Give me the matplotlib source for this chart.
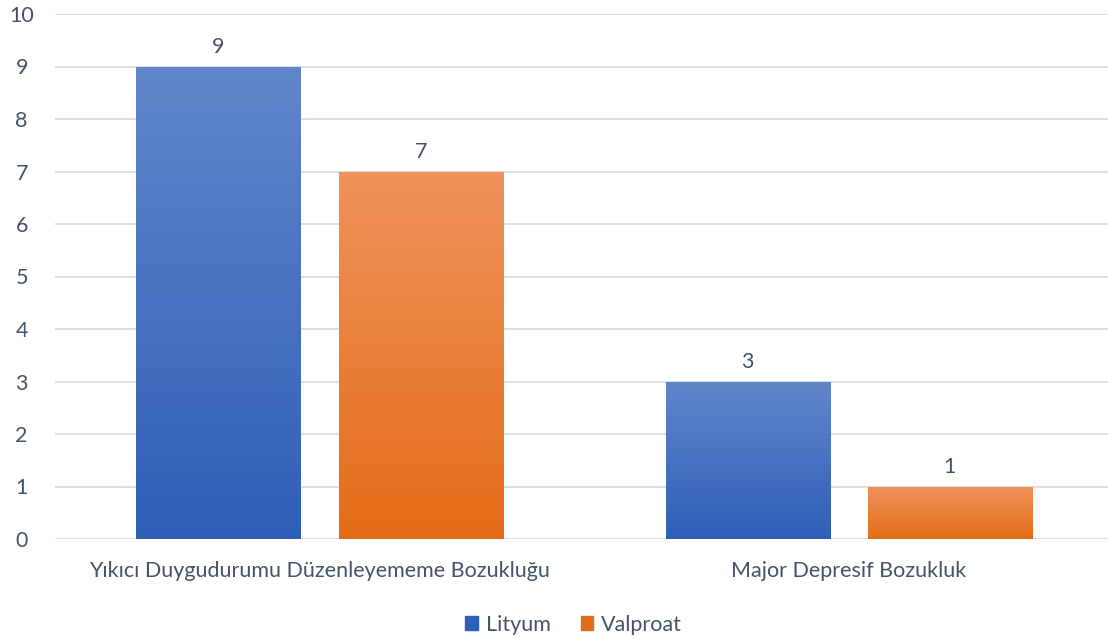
import numpy as np
import matplotlib
matplotlib.use("Agg")
import matplotlib.pyplot as plt
from matplotlib.colors import LinearSegmentedColormap
from matplotlib.patches import Patch

plt.rcParams['font.family'] = ['Lato', 'DejaVu Sans']

kategoriler = ["Yıkıcı Duygudurumu Düzenleyememe Bozukluğu", "Major Depresif Bozukluk"]
seriler = ["Lityum", "Valproat"]
lityum = [9, 3]
valproat = [7, 1]

# ust (acik) ve alt (koyu) renkler
renkler = [("#6186CB", "#2E5FB7"), ("#F0925C", "#E46C17")]
yazi_rengi = "#44546A"
boyut = 15.5

fig = plt.figure(figsize=(11.08, 6.39), dpi=100)
ax = fig.add_axes([55 / 1108, 100 / 639, 1053 / 1108, 525 / 639])

x = np.arange(len(kategoriler))
genislik = 0.31
kayma = 0.191

for i, (degerler, (ust, alt)) in enumerate(zip([lityum, valproat], renkler)):
    konum = x - kayma if i == 0 else x + kayma
    cubuklar = ax.bar(konum, degerler, genislik, color=alt, zorder=2)
    cmap = LinearSegmentedColormap.from_list("g%d" % i, [alt, ust])
    for c, d in zip(cubuklar, degerler):
        gx = c.get_x()
        grad = np.linspace(0, 1, 256).reshape(-1, 1)
        im = ax.imshow(grad, cmap=cmap, origin="lower", aspect="auto",
                       extent=[gx, gx + c.get_width(), 0, d], zorder=3)
        im.set_clip_path(c)
        ax.annotate(str(d), (gx + c.get_width() / 2, d), xytext=(0, 7),
                    textcoords="offset points", ha="center", va="bottom",
                    fontsize=boyut, color=yazi_rengi)

ax.set_xlim(-0.5, 1.49)
ax.set_ylim(0, 10)
ax.set_yticks(range(0, 11))
ax.set_xticks(x)
ax.set_xticklabels(kategoriler)
ax.yaxis.grid(True, color="#D9DCE1", linewidth=1.3, zorder=0)
ax.set_axisbelow(True)
for s in ax.spines.values():
    s.set_visible(False)
ax.tick_params(axis="both", length=0, labelsize=boyut, colors=yazi_rengi)
ax.tick_params(axis="y", pad=24)
ax.tick_params(axis="x", pad=16)
for t in ax.get_yticklabels():
    t.set_horizontalalignment("center")

ax.legend(handles=[Patch(color=renkler[0][1]), Patch(color=renkler[1][1])], labels=seriler,
          loc="lower center", bbox_to_anchor=(0.5 - 8 / 1053, -0.219), ncol=2, frameon=False,
          fontsize=boyut, labelcolor=yazi_rengi, handlelength=0.6, handleheight=0.6,
          handletextpad=0.35, columnspacing=1.4)

fig.savefig("out.png", dpi=100)
